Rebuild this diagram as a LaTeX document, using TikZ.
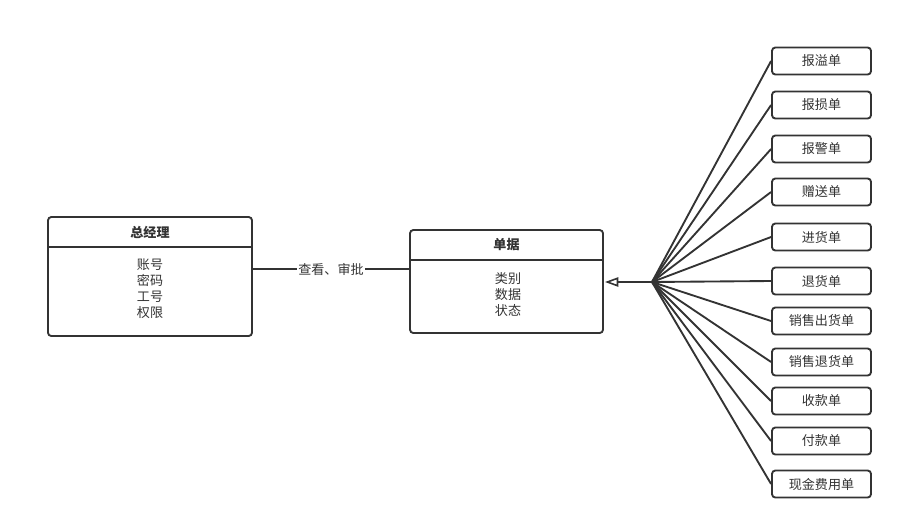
\documentclass[tikz,border=0pt]{standalone}
\usepackage{fontspec}
\setmainfont{Noto Sans CJK SC}
\usetikzlibrary{arrows.meta}
\definecolor{ink}{HTML}{333333}
\tikzset{
  x=0.75pt, y=-0.75pt,
  box/.style={draw=ink, line width=1.4pt, rounded corners=2.5pt, fill=white, inner sep=0pt},
  small/.style={box, minimum width=74.25pt, minimum height=20.25pt, font=\fontsize{9.8}{11}\selectfont, text=ink},
  txt/.style={font=\fontsize{9.8}{12}\selectfont, text=ink, align=center, inner sep=0pt},
  edge/.style={draw=ink, line width=1.4pt},
}
\begin{document}
\begin{tikzpicture}
\useasboundingbox (0,0) rectangle (903,529);
% manager class
\node[box, minimum width=153pt, minimum height=89.25pt] (mgr) at (150,276.5) {};
\draw[edge] (48,247) -- (252,247);
\node[txt, font=\fontsize{9.8}{12}\selectfont\bfseries] (mgrh) at (150,232) {总经理};
\node[txt] (mgrb) at (150,289) {账号\\密码\\工号\\权限};
% document class
\node[box, minimum width=144.75pt, minimum height=77.25pt] (doc) at (506.5,281.5) {};
\draw[edge] (410,260) -- (603,260);
\node[txt, font=\fontsize{9.8}{12}\selectfont\bfseries] (doch) at (506.5,245) {单据};
\node[txt] (docb) at (508,295) {类别\\数据\\状态};
% association
\coordinate (a1) at (252,269);
\coordinate (a2) at (410,269);
\draw[edge] (a1) -- node[txt, fill=white, inner sep=1pt] (lbl) {查看、审批} (a2);
% hub
\coordinate (hub) at (652,282);
\draw[edge, -{Triangle[open, length=10pt, width=7pt, line width=1.2pt]}] (hub) -- (605,282);
% subtypes
\foreach \n/\y/\t in {b1/61/报溢单, b2/105/报损单, b3/149/报警单, b4/192/赠送单, b5/237/进货单, b6/281/退货单, b7/321/销售出货单, b8/362/销售退货单, b9/401/收款单, b10/441/付款单, b11/484/现金费用单}{
  \node[small] (\n) at (821.5,\y) {\t};
  \draw[edge] (hub) -- (\n.west);
}
\end{tikzpicture}
\end{document}
